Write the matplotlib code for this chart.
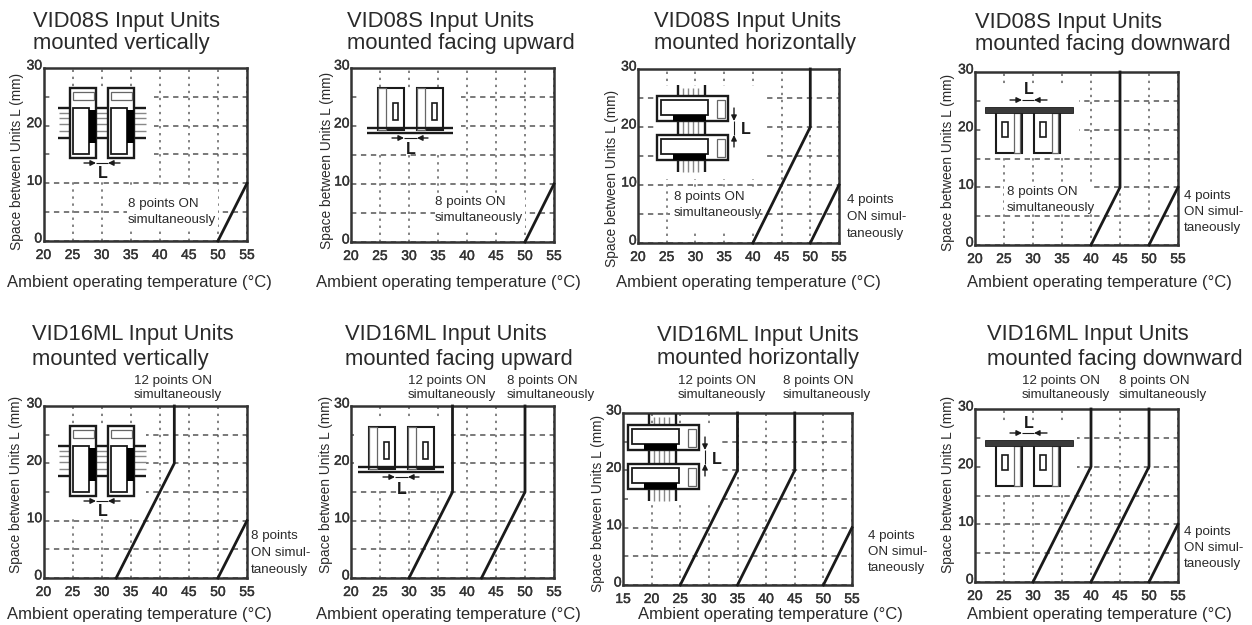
import matplotlib
matplotlib.use("Agg")
import matplotlib.pyplot as plt
import matplotlib.patheffects as pe
from matplotlib.patches import Rectangle
from matplotlib.transforms import ScaledTranslation

W, H = 1252, 625
plt.rcParams['font.family'] = ['Liberation Sans', 'DejaVu Sans']
TXT = '#2a2a2a'
INK = '#1a1a1a'

y_ticks = [0, 10, 20, 30]
x_ticks = [20, 25, 30, 35, 40, 45, 50, 55]
x_ticks_wide = [15, 20, 25, 30, 35, 40, 45, 50, 55]

titles = [
    "VID08S Input Units\nmounted vertically",
    "VID08S Input Units\nmounted facing upward",
    "VID08S Input Units\nmounted horizontally",
    "VID08S Input Units\nmounted facing downward",
    "VID16ML Input Units\nmounted vertically",
    "VID16ML Input Units\nmounted facing upward",
    "VID16ML Input Units\nmounted horizontally",
    "VID16ML Input Units\nmounted facing downward",
]

# curves per panel, temperature then spacing
temps_1 = [[50, 55]]
space_1 = [[0, 10]]
temps_2 = [[50, 55]]
space_2 = [[0, 10]]
temps_3 = [[40, 50, 50], [50, 55]]
space_3 = [[0, 20, 30], [0, 10]]
temps_4 = [[40, 45, 45], [50, 55]]
space_4 = [[0, 10, 30], [0, 10]]
temps_5 = [[32.5, 42.5, 42.5], [50, 55]]
space_5 = [[0, 20, 30], [0, 10]]
temps_6 = [[30, 37.5, 37.5], [42.5, 50, 50]]
space_6 = [[0, 15, 30], [0, 15, 30]]
temps_7 = [[25, 35, 35], [35, 45, 45], [50, 55]]
space_7 = [[0, 20, 30], [0, 20, 30], [0, 10]]
temps_8 = [[30, 40, 40], [40, 50, 50], [50, 55]]
space_8 = [[0, 20, 30], [0, 20, 30], [0, 10]]

all_temps = [temps_1, temps_2, temps_3, temps_4, temps_5, temps_6, temps_7, temps_8]
all_space = [space_1, space_2, space_3, space_4, space_5, space_6, space_7, space_8]

EIGHT = "8 points ON\nsimultaneously"
TWELVE = "12 points ON\nsimultaneously"
SIDE4 = "4 points\nON simul-\ntaneously"
SIDE8 = "8 points\nON simul-\ntaneously"

# layout, in pixels of the reference
boxes = [(43.5, 68, 247, 241), (351, 68, 554, 242), (638, 69, 839, 243), (975, 72, 1178, 245),
         (43.5, 406, 247, 578), (351, 406, 554, 578), (623, 413, 852, 585), (975, 409, 1178, 582)]
title_pos = [(33, 32.5), (347, 32.5), (654, 32.5), (975, 33.5), (32, 347), (345, 347), (657, 347), (987, 347)]
title_gap = [1.0, 1.0, 1.0, 1.05, 1.27, 1.27, 1.15, 1.27]
xlabel_pos = [(7, 283), (316, 283), (616, 283), (967, 283), (7, 615), (316, 615), (638, 615), (967, 615)]
ylabel_pos = [(17, 161), (327, 160), (612, 178), (948, 162), (16, 484), (326, 484), (598, 503), (948, 484)]
notes = [
    [(128, 212, EIGHT, 1.5)],
    [(435, 210, EIGHT, 1.45)],
    [(674, 205, EIGHT, 1.45), (847, 217, SIDE4, 1.5)],
    [(1007, 200, EIGHT, 1.45), (1184, 212, SIDE4, 1.5)],
    [(134, 388, TWELVE, 1.18), (251, 553, SIDE8, 1.5)],
    [(408, 388, TWELVE, 1.18), (507, 388, EIGHT, 1.18)],
    [(678, 388, TWELVE, 1.18), (783, 388, EIGHT, 1.18), (868, 552, SIDE4, 1.5)],
    [(1022, 388, TWELVE, 1.18), (1119, 388, EIGHT, 1.18), (1184, 548, SIDE4, 1.5)],
]
# white areas that cut the grid, x0 y0 x1 y1 in data units
masks = [
    [(21.5, 11, 39, 26.5), (34.4, 2, 50, 9)],
    [(21.5, 15.5, 39, 26.5), (34.4, 2.5, 50, 8.5)],
    [(23.3, 11, 42.2, 27), (25.5, 2, 41.3, 9.2)],
    [(21, 15.5, 38, 27.5), (25, 5.4, 40.5, 10.2)],
    [(21.5, 11, 37.7, 26.5)],
    [(20.5, 15.5, 37.3, 27.5)],
    [(15.8, 14, 32, 28)],
    [(21, 15.5, 37.5, 27.5)],
]
icon_kind = ['vertical', 'up', 'horizontal', 'down', 'vertical', 'up', 'horizontal', 'down']
icon_pos = [(70, 88), (378, 88), (657, 96), (985, 107), (70, 426), (369, 427), (628, 425), (985, 440)]


def box(ov, x, y, w, h, lw=1.4, fc='white', ec=INK, z=3):
    ov.add_patch(Rectangle((x, y), w, h, fc=fc, ec=ec, lw=lw, zorder=z))


def hline(ov, x0, x1, y, lw=1.0, c=INK, z=2):
    ov.plot([x0, x1], [y, y], color=c, lw=lw, solid_capstyle='butt', zorder=z)


def vline(ov, x, y0, y1, lw=1.0, c=INK, z=2):
    ov.plot([x, x], [y0, y1], color=c, lw=lw, solid_capstyle='butt', zorder=z)


def arrow(ov, x0, y0, x1, y1):
    ov.annotate('', xy=(x1, y1), xytext=(x0, y0), zorder=6,
                arrowprops=dict(arrowstyle='-|>', color=INK, lw=1.0, mutation_scale=8,
                                shrinkA=0, shrinkB=0))


def letter(ov, x, y):
    ov.text(x, y, 'L', fontsize=11.5, fontweight='bold', ha='center', va='center', color=INK, zorder=6)


def icon_vertical(ov, ox, oy):
    for y in [25, 30, 36, 43]:
        hline(ov, ox - 11, ox + 76, oy + y, lw=1.0, c='#888888')
    hline(ov, ox - 12, ox + 76, oy + 20, lw=1.7)
    hline(ov, ox - 12, ox + 76, oy + 50, lw=1.7)
    for dx in [0, 38]:
        box(ov, ox + dx, oy, 26, 70, lw=1.7)
        box(ov, ox + dx + 3, oy + 4, 21, 8, lw=0.9, ec='#666666', z=4)
        box(ov, ox + dx + 3, oy + 20, 16, 46, lw=1.3, z=4)
        box(ov, ox + dx + 19, oy + 22, 7, 33, fc='black', ec='black', lw=0, z=5)
    arrow(ov, ox + 14, oy + 75, ox + 26, oy + 75)
    arrow(ov, ox + 50, oy + 75, ox + 38, oy + 75)
    hline(ov, ox + 26, ox + 38, oy + 75, lw=0.8)
    letter(ov, ox + 33, oy + 86)


def icon_up(ov, ox, oy):
    for dx in [0, 39]:
        box(ov, ox + dx, oy, 26, 42, lw=1.5)
        box(ov, ox + dx, oy, 8, 42, lw=0.9, ec='#666666', z=4)
        box(ov, ox + dx + 15, oy + 15, 5, 17, lw=1.2, z=4)
    hline(ov, ox - 11, ox + 75, oy + 40, lw=1.7, z=5)
    hline(ov, ox - 11, ox + 75, oy + 45, lw=1.7, z=5)
    arrow(ov, ox + 14, oy + 50, ox + 26, oy + 50)
    arrow(ov, ox + 50, oy + 50, ox + 39, oy + 50)
    hline(ov, ox + 26, ox + 39, oy + 50, lw=0.8)
    letter(ov, ox + 33, oy + 62)


def icon_horizontal(ov, ox, oy):
    for x in [26, 31, 36, 41]:
        vline(ov, ox + x, oy - 8, oy + 76, lw=1.0, c='#888888')
    vline(ov, ox + 21, oy - 11, oy + 76, lw=1.7)
    vline(ov, ox + 48, oy - 11, oy + 76, lw=1.7)
    for dy in [0, 39]:
        box(ov, ox, oy + dy, 71, 25, lw=1.7)
        box(ov, ox + 4, oy + dy + 4, 47, 15, lw=1.3, z=4)
        box(ov, ox + 60, oy + dy + 4, 8, 18, lw=0.9, ec='#666666', z=4)
        box(ov, ox + 16, oy + dy + 19, 33, 6, fc='black', ec='black', lw=0, z=5)
    arrow(ov, ox + 77, oy + 12, ox + 77, oy + 25)
    arrow(ov, ox + 77, oy + 51, ox + 77, oy + 39)
    vline(ov, ox + 77, oy + 25, oy + 39, lw=0.8)
    letter(ov, ox + 89, oy + 34)


def icon_down(ov, ox, oy):
    for dx in [11, 49]:
        box(ov, ox + dx, oy + 4, 26, 42, lw=1.5)
        box(ov, ox + dx + 18, oy + 6, 6, 40, lw=0.9, ec='#666666', z=4)
        box(ov, ox + dx + 6, oy + 15, 6, 15, lw=1.2, z=4)
    box(ov, ox, oy, 88, 6, fc='#3a3a3a', ec=INK, lw=0.6, z=5)
    arrow(ov, ox + 25, oy - 7, ox + 37, oy - 7)
    arrow(ov, ox + 62, oy - 7, ox + 49, oy - 7)
    hline(ov, ox + 37, ox + 49, oy - 7, lw=0.8)
    letter(ov, ox + 44, oy - 17)


icon_funcs = {'vertical': icon_vertical, 'up': icon_up,
              'horizontal': icon_horizontal, 'down': icon_down}

fig = plt.figure(figsize=(W / 100, H / 100), dpi=100, facecolor='white')
thick = [pe.withStroke(linewidth=0.3, foreground='#333333')]

for i in range(8):
    x0, y0, x1, y1 = boxes[i]
    ax = fig.add_axes([x0 / W, 1 - y1 / H, (x1 - x0) / W, (y1 - y0) / H])
    ticks = x_ticks_wide if i == 6 else x_ticks
    ax.set_xlim(ticks[0], ticks[-1])
    ax.set_ylim(0, 30)
    ax.set_xticks(ticks)
    ax.set_yticks(y_ticks)
    ax.set_yticks([5, 15, 25], minor=True)
    ax.tick_params(which='both', length=0)
    ax.tick_params(axis='x', pad=5, labelsize=10, labelcolor='#333333')
    ax.tick_params(axis='y', pad=1, labelsize=10, labelcolor='#333333')
    ax.grid(True, which='major', axis='x', color='#777777', lw=1.3, ls=(0, (1.3, 2.6)))
    ax.grid(True, which='both', axis='y', color='#555555', lw=1.1, ls=(0, (3.5, 3)))
    ax.set_axisbelow(True)
    for s in ax.spines.values():
        s.set_linewidth(1.8)
        s.set_color('#333333')
    for lbl in ax.get_yticklabels():
        lbl.set_transform(lbl.get_transform() + ScaledTranslation(0, 4 / 100, fig.dpi_scale_trans))
    for lbl in ax.get_xticklabels() + ax.get_yticklabels():
        lbl.set_path_effects(thick)
    for m in masks[i]:
        ax.add_patch(Rectangle((m[0], m[1]), m[2] - m[0], m[3] - m[1], fc='white', ec='none', zorder=1.5))
    for t, s in zip(all_temps[i], all_space[i]):
        ax.plot(t, s, color=INK, lw=2.0, zorder=3, solid_joinstyle='miter', clip_on=False)

# texts and unit sketches are placed in reference pixels
ov = fig.add_axes([0, 0, 1, 1], zorder=5)
ov.set_xlim(0, W)
ov.set_ylim(H, 0)
ov.axis('off')

for i in range(8):
    ov.text(title_pos[i][0], title_pos[i][1], titles[i], fontsize=15.8, color=TXT, ha='left', va='center',
            linespacing=title_gap[i])
    ov.text(xlabel_pos[i][0], xlabel_pos[i][1], "Ambient operating temperature (°C)", fontsize=12,
            color=TXT, ha='left', va='center')
    ov.text(ylabel_pos[i][0], ylabel_pos[i][1], "Space between Units L (mm)", fontsize=9.9, rotation=90,
            color=TXT, ha='center', va='center')
    for nx, ny, s, gap in notes[i]:
        ov.text(nx, ny, s, fontsize=9.6, color=TXT, ha='left', va='center', linespacing=gap)
    icon_funcs[icon_kind[i]](ov, icon_pos[i][0], icon_pos[i][1])

ov.set_xlim(0, W)
ov.set_ylim(H, 0)
fig.savefig('out.png', dpi=100)
